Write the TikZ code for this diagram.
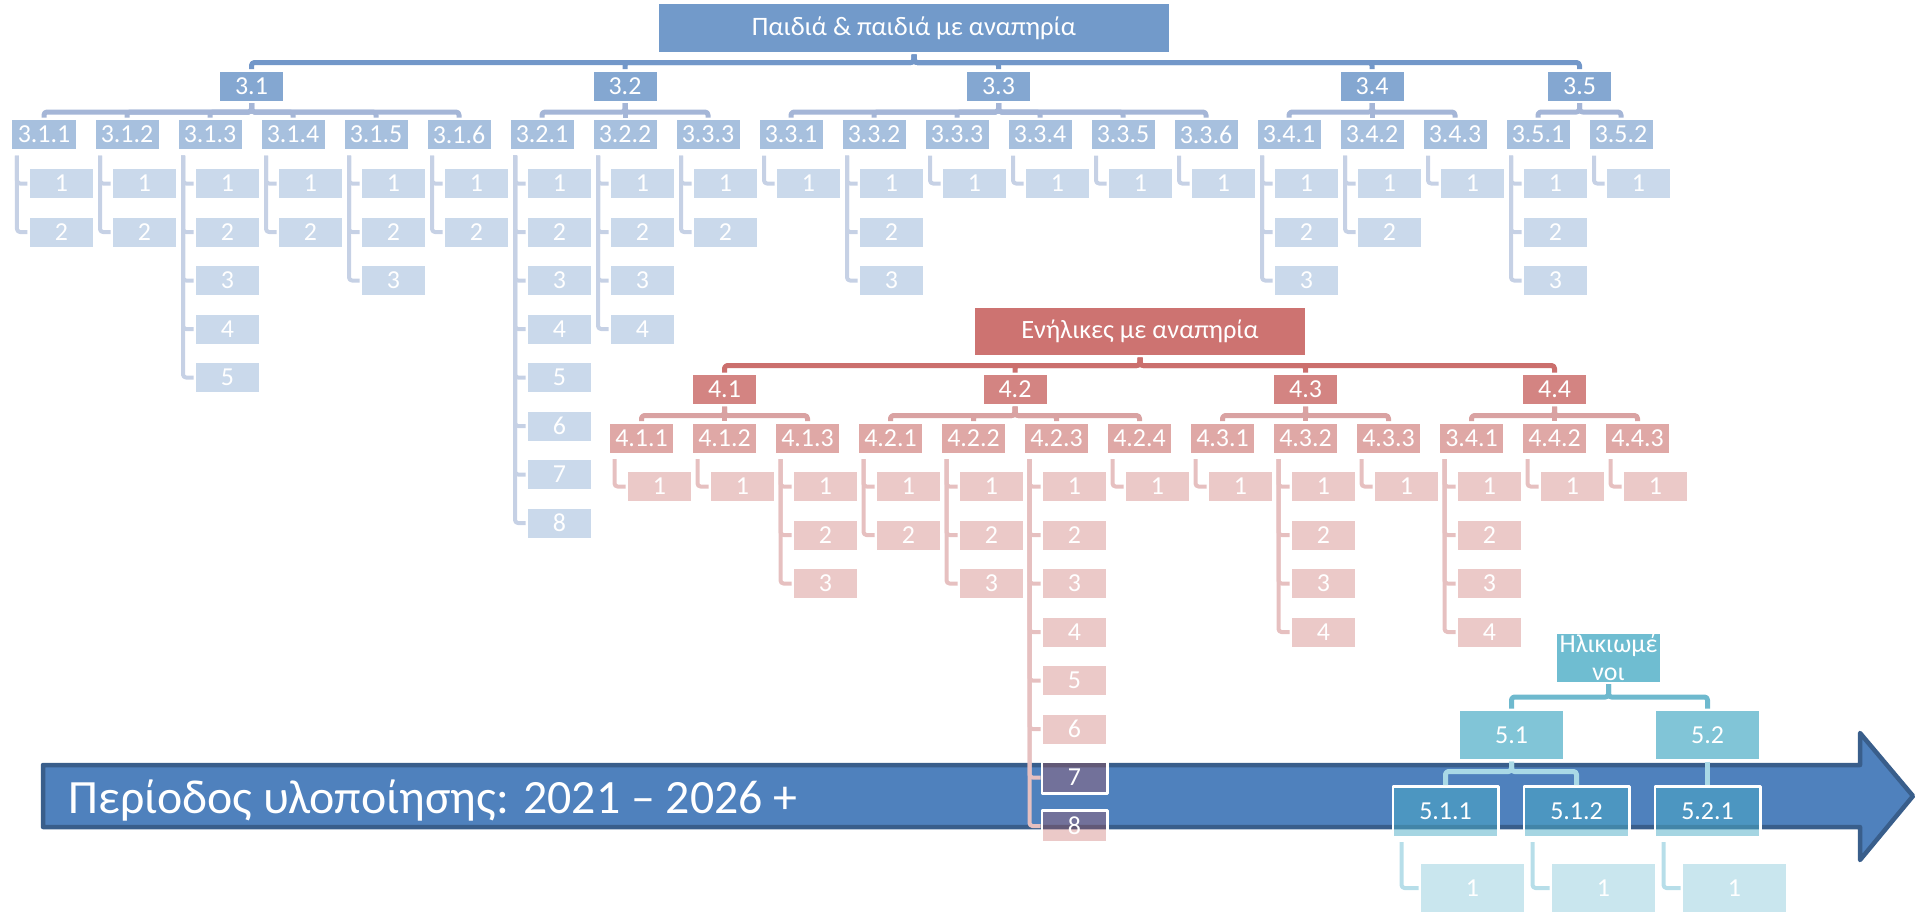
\documentclass[tikz,border=0pt]{standalone}
\usepackage{fontspec}
\setmainfont{Carlito}
\definecolor{accBlue}{HTML}{4F81BD}
\definecolor{accRed}{HTML}{C0504D}
\definecolor{accCyan}{HTML}{4BACC6}
\definecolor{arrowEdge}{HTML}{395E8B}
\definecolor{blueBar}{HTML}{7297C9}
\definecolor{blueSubBar}{HTML}{A5B6D7}
\definecolor{blueBrk}{HTML}{C6D1E5}
\definecolor{redBar}{HTML}{CB6F6D}
\definecolor{redSubBar}{HTML}{D9A2A2}
\definecolor{redBrk}{HTML}{E6C0C0}
\definecolor{cyanBar}{HTML}{6EB9CE}
\definecolor{cyanSubBar}{HTML}{A9D9E6}
\definecolor{cyanBrk}{HTML}{B7DEE9}
\tikzset{
  box/.style={draw=white,line width=2.5bp,inner sep=0pt,text=white,font=\fontsize{26}{28}\selectfont},
  smallbox/.style={box,minimum width=65.5bp,minimum height=31.5bp},
  bigbox/.style={box,minimum width=105.5bp,minimum height=50.5bp},
  bluetop/.style={box,fill=accBlue!80,font=\fontsize{26.7}{28}\selectfont},
  bluemid/.style={smallbox,fill=accBlue!70},
  bluesub/.style={smallbox,fill=accBlue!50},
  blueleaf/.style={smallbox,fill=accBlue!30},
  redtop/.style={box,fill=accRed!80,font=\fontsize{26.5}{28}\selectfont},
  redmid/.style={smallbox,fill=accRed!70},
  redsub/.style={smallbox,fill=accRed!50},
  redleaf/.style={smallbox,fill=accRed,fill opacity=0.31,text opacity=1},
  cyantop/.style={bigbox,fill=accCyan!80,align=center},
  cyanmid/.style={bigbox,fill=accCyan!70},
  cyansub/.style={bigbox,fill=accCyan,fill opacity=0.5,text opacity=1},
  cyanleaf/.style={bigbox,fill=accCyan!30},
  bar/.style={line width=5bp,rounded corners=3bp},
  brk/.style={line width=4bp,rounded corners=3bp,shorten <=4bp},
}
\begin{document}
\begin{tikzpicture}[x=1bp,y=-1bp,line join=round]
\useasboundingbox (0,0) rectangle (1915,912);
%% timeline arrow
\fill [accBlue,draw=arrowEdge,line width=4.5bp] (43,765) -- (1860,765) -- (1860,733) -- (1913,796) -- (1860,860) -- (1860,827) -- (43,827) -- cycle;
\node (period) at (65,813) [anchor=base west,text=white,font=\fontsize{48}{50}\selectfont] {Περίοδος υλοποίησης: 2021 – 2026 +};
%% children
\node (node_3) at (914,28) [bluetop,minimum width=512.5bp,minimum height=50.5bp] {Παιδιά \& παιδιά με αναπηρία};
  \node (node_3_1) at (251.5,86) [bluemid] {3.1};
  \node (node_3_2) at (625,86) [bluemid] {3.2};
  \node (node_3_3) at (998.5,86) [bluemid] {3.3};
  \node (node_3_4) at (1372,86) [bluemid] {3.4};
  \node (node_3_5) at (1579.5,86) [bluemid] {3.5};
  \node (node_3_1_1) at (44,134.5) [bluesub] {3.1.1};
  \node (node_3_1_2) at (127,134.5) [bluesub] {3.1.2};
  \node (node_3_1_3) at (210,134.5) [bluesub] {3.1.3};
  \node (node_3_1_4) at (293,134.5) [bluesub] {3.1.4};
  \node (node_3_1_5) at (376,134.5) [bluesub] {3.1.5};
  \node (node_3_1_6) at (459,134.5) [bluesub] {3.1.6};
  \node (node_3_2_1) at (542,134.5) [bluesub] {3.2.1};
  \node (node_3_2_2) at (625,134.5) [bluesub] {3.2.2};
  \node (node_3_2_3) at (708,134.5) [bluesub] {3.3.3};
  \node (node_3_3_1) at (791,134.5) [bluesub] {3.3.1};
  \node (node_3_3_2) at (874,134.5) [bluesub] {3.3.2};
  \node (node_3_3_3) at (957,134.5) [bluesub] {3.3.3};
  \node (node_3_3_4) at (1040,134.5) [bluesub] {3.3.4};
  \node (node_3_3_5) at (1123,134.5) [bluesub] {3.3.5};
  \node (node_3_3_6) at (1206,134.5) [bluesub] {3.3.6};
  \node (node_3_4_1) at (1289,134.5) [bluesub] {3.4.1};
  \node (node_3_4_2) at (1372,134.5) [bluesub] {3.4.2};
  \node (node_3_4_3) at (1455,134.5) [bluesub] {3.4.3};
  \node (node_3_5_1) at (1538,134.5) [bluesub] {3.5.1};
  \node (node_3_5_2) at (1621,134.5) [bluesub] {3.5.2};
  \node (node_3_1_1_1) at (61.5,183.5) [blueleaf] {1};
  \node (node_3_1_1_2) at (61.5,232) [blueleaf] {2};
  \node (node_3_1_2_1) at (144.5,183.5) [blueleaf] {1};
  \node (node_3_1_2_2) at (144.5,232) [blueleaf] {2};
  \node (node_3_1_3_1) at (227.5,183.5) [blueleaf] {1};
  \node (node_3_1_3_2) at (227.5,232) [blueleaf] {2};
  \node (node_3_1_3_3) at (227.5,280.5) [blueleaf] {3};
  \node (node_3_1_3_4) at (227.5,329) [blueleaf] {4};
  \node (node_3_1_3_5) at (227.5,377.5) [blueleaf] {5};
  \node (node_3_1_4_1) at (310.5,183.5) [blueleaf] {1};
  \node (node_3_1_4_2) at (310.5,232) [blueleaf] {2};
  \node (node_3_1_5_1) at (393.5,183.5) [blueleaf] {1};
  \node (node_3_1_5_2) at (393.5,232) [blueleaf] {2};
  \node (node_3_1_5_3) at (393.5,280.5) [blueleaf] {3};
  \node (node_3_1_6_1) at (476.5,183.5) [blueleaf] {1};
  \node (node_3_1_6_2) at (476.5,232) [blueleaf] {2};
  \node (node_3_2_1_1) at (559.5,183.5) [blueleaf] {1};
  \node (node_3_2_1_2) at (559.5,232) [blueleaf] {2};
  \node (node_3_2_1_3) at (559.5,280.5) [blueleaf] {3};
  \node (node_3_2_1_4) at (559.5,329) [blueleaf] {4};
  \node (node_3_2_1_5) at (559.5,377.5) [blueleaf] {5};
  \node (node_3_2_1_6) at (559.5,426) [blueleaf] {6};
  \node (node_3_2_1_7) at (559.5,474.5) [blueleaf] {7};
  \node (node_3_2_1_8) at (559.5,523) [blueleaf] {8};
  \node (node_3_2_2_1) at (642.5,183.5) [blueleaf] {1};
  \node (node_3_2_2_2) at (642.5,232) [blueleaf] {2};
  \node (node_3_2_2_3) at (642.5,280.5) [blueleaf] {3};
  \node (node_3_2_2_4) at (642.5,329) [blueleaf] {4};
  \node (node_3_2_3_1) at (725.5,183.5) [blueleaf] {1};
  \node (node_3_2_3_2) at (725.5,232) [blueleaf] {2};
  \node (node_3_3_1_1) at (808.5,183.5) [blueleaf] {1};
  \node (node_3_3_2_1) at (891.5,183.5) [blueleaf] {1};
  \node (node_3_3_2_2) at (891.5,232) [blueleaf] {2};
  \node (node_3_3_2_3) at (891.5,280.5) [blueleaf] {3};
  \node (node_3_3_3_1) at (974.5,183.5) [blueleaf] {1};
  \node (node_3_3_4_1) at (1057.5,183.5) [blueleaf] {1};
  \node (node_3_3_5_1) at (1140.5,183.5) [blueleaf] {1};
  \node (node_3_3_6_1) at (1223.5,183.5) [blueleaf] {1};
  \node (node_3_4_1_1) at (1306.5,183.5) [blueleaf] {1};
  \node (node_3_4_1_2) at (1306.5,232) [blueleaf] {2};
  \node (node_3_4_1_3) at (1306.5,280.5) [blueleaf] {3};
  \node (node_3_4_2_1) at (1389.5,183.5) [blueleaf] {1};
  \node (node_3_4_2_2) at (1389.5,232) [blueleaf] {2};
  \node (node_3_4_3_1) at (1472.5,183.5) [blueleaf] {1};
  \node (node_3_5_1_1) at (1555.5,183.5) [blueleaf] {1};
  \node (node_3_5_1_2) at (1555.5,232) [blueleaf] {2};
  \node (node_3_5_1_3) at (1555.5,280.5) [blueleaf] {3};
  \node (node_3_5_2_1) at (1638.5,183.5) [blueleaf] {1};
  \draw [blueBar,bar] (node_3.south) -- ++(0,8) -| (node_3_1.north);
  \draw [blueBar,bar] (node_3.south) -- ++(0,8) -| (node_3_2.north);
  \draw [blueBar,bar] (node_3.south) -- ++(0,8) -| (node_3_3.north);
  \draw [blueBar,bar] (node_3.south) -- ++(0,8) -| (node_3_4.north);
  \draw [blueBar,bar] (node_3.south) -- ++(0,8) -| (node_3_5.north);
  \draw [blueSubBar,bar] (node_3_1.south) -- ++(0,9) -| (node_3_1_1.north);
  \draw [blueSubBar,bar] (node_3_1.south) -- ++(0,9) -| (node_3_1_2.north);
  \draw [blueSubBar,bar] (node_3_1.south) -- ++(0,9) -| (node_3_1_3.north);
  \draw [blueSubBar,bar] (node_3_1.south) -- ++(0,9) -| (node_3_1_4.north);
  \draw [blueSubBar,bar] (node_3_1.south) -- ++(0,9) -| (node_3_1_5.north);
  \draw [blueSubBar,bar] (node_3_1.south) -- ++(0,9) -| (node_3_1_6.north);
  \draw [blueSubBar,bar] (node_3_2.south) -- ++(0,9) -| (node_3_2_1.north);
  \draw [blueSubBar,bar] (node_3_2.south) -- ++(0,9) -| (node_3_2_2.north);
  \draw [blueSubBar,bar] (node_3_2.south) -- ++(0,9) -| (node_3_2_3.north);
  \draw [blueSubBar,bar] (node_3_3.south) -- ++(0,9) -| (node_3_3_1.north);
  \draw [blueSubBar,bar] (node_3_3.south) -- ++(0,9) -| (node_3_3_2.north);
  \draw [blueSubBar,bar] (node_3_3.south) -- ++(0,9) -| (node_3_3_3.north);
  \draw [blueSubBar,bar] (node_3_3.south) -- ++(0,9) -| (node_3_3_4.north);
  \draw [blueSubBar,bar] (node_3_3.south) -- ++(0,9) -| (node_3_3_5.north);
  \draw [blueSubBar,bar] (node_3_3.south) -- ++(0,9) -| (node_3_3_6.north);
  \draw [blueSubBar,bar] (node_3_4.south) -- ++(0,9) -| (node_3_4_1.north);
  \draw [blueSubBar,bar] (node_3_4.south) -- ++(0,9) -| (node_3_4_2.north);
  \draw [blueSubBar,bar] (node_3_4.south) -- ++(0,9) -| (node_3_4_3.north);
  \draw [blueSubBar,bar] (node_3_5.south) -- ++(0,9) -| (node_3_5_1.north);
  \draw [blueSubBar,bar] (node_3_5.south) -- ++(0,9) -| (node_3_5_2.north);
  \draw [blueBrk,brk] ([xshift=-27bp]node_3_1_1.south) |- (node_3_1_1_1.west);
  \draw [blueBrk,brk] ([xshift=-27bp]node_3_1_1.south) |- (node_3_1_1_2.west);
  \draw [blueBrk,brk] ([xshift=-27bp]node_3_1_2.south) |- (node_3_1_2_1.west);
  \draw [blueBrk,brk] ([xshift=-27bp]node_3_1_2.south) |- (node_3_1_2_2.west);
  \draw [blueBrk,brk] ([xshift=-27bp]node_3_1_3.south) |- (node_3_1_3_1.west);
  \draw [blueBrk,brk] ([xshift=-27bp]node_3_1_3.south) |- (node_3_1_3_2.west);
  \draw [blueBrk,brk] ([xshift=-27bp]node_3_1_3.south) |- (node_3_1_3_3.west);
  \draw [blueBrk,brk] ([xshift=-27bp]node_3_1_3.south) |- (node_3_1_3_4.west);
  \draw [blueBrk,brk] ([xshift=-27bp]node_3_1_3.south) |- (node_3_1_3_5.west);
  \draw [blueBrk,brk] ([xshift=-27bp]node_3_1_4.south) |- (node_3_1_4_1.west);
  \draw [blueBrk,brk] ([xshift=-27bp]node_3_1_4.south) |- (node_3_1_4_2.west);
  \draw [blueBrk,brk] ([xshift=-27bp]node_3_1_5.south) |- (node_3_1_5_1.west);
  \draw [blueBrk,brk] ([xshift=-27bp]node_3_1_5.south) |- (node_3_1_5_2.west);
  \draw [blueBrk,brk] ([xshift=-27bp]node_3_1_5.south) |- (node_3_1_5_3.west);
  \draw [blueBrk,brk] ([xshift=-27bp]node_3_1_6.south) |- (node_3_1_6_1.west);
  \draw [blueBrk,brk] ([xshift=-27bp]node_3_1_6.south) |- (node_3_1_6_2.west);
  \draw [blueBrk,brk] ([xshift=-27bp]node_3_2_1.south) |- (node_3_2_1_1.west);
  \draw [blueBrk,brk] ([xshift=-27bp]node_3_2_1.south) |- (node_3_2_1_2.west);
  \draw [blueBrk,brk] ([xshift=-27bp]node_3_2_1.south) |- (node_3_2_1_3.west);
  \draw [blueBrk,brk] ([xshift=-27bp]node_3_2_1.south) |- (node_3_2_1_4.west);
  \draw [blueBrk,brk] ([xshift=-27bp]node_3_2_1.south) |- (node_3_2_1_5.west);
  \draw [blueBrk,brk] ([xshift=-27bp]node_3_2_1.south) |- (node_3_2_1_6.west);
  \draw [blueBrk,brk] ([xshift=-27bp]node_3_2_1.south) |- (node_3_2_1_7.west);
  \draw [blueBrk,brk] ([xshift=-27bp]node_3_2_1.south) |- (node_3_2_1_8.west);
  \draw [blueBrk,brk] ([xshift=-27bp]node_3_2_2.south) |- (node_3_2_2_1.west);
  \draw [blueBrk,brk] ([xshift=-27bp]node_3_2_2.south) |- (node_3_2_2_2.west);
  \draw [blueBrk,brk] ([xshift=-27bp]node_3_2_2.south) |- (node_3_2_2_3.west);
  \draw [blueBrk,brk] ([xshift=-27bp]node_3_2_2.south) |- (node_3_2_2_4.west);
  \draw [blueBrk,brk] ([xshift=-27bp]node_3_2_3.south) |- (node_3_2_3_1.west);
  \draw [blueBrk,brk] ([xshift=-27bp]node_3_2_3.south) |- (node_3_2_3_2.west);
  \draw [blueBrk,brk] ([xshift=-27bp]node_3_3_1.south) |- (node_3_3_1_1.west);
  \draw [blueBrk,brk] ([xshift=-27bp]node_3_3_2.south) |- (node_3_3_2_1.west);
  \draw [blueBrk,brk] ([xshift=-27bp]node_3_3_2.south) |- (node_3_3_2_2.west);
  \draw [blueBrk,brk] ([xshift=-27bp]node_3_3_2.south) |- (node_3_3_2_3.west);
  \draw [blueBrk,brk] ([xshift=-27bp]node_3_3_3.south) |- (node_3_3_3_1.west);
  \draw [blueBrk,brk] ([xshift=-27bp]node_3_3_4.south) |- (node_3_3_4_1.west);
  \draw [blueBrk,brk] ([xshift=-27bp]node_3_3_5.south) |- (node_3_3_5_1.west);
  \draw [blueBrk,brk] ([xshift=-27bp]node_3_3_6.south) |- (node_3_3_6_1.west);
  \draw [blueBrk,brk] ([xshift=-27bp]node_3_4_1.south) |- (node_3_4_1_1.west);
  \draw [blueBrk,brk] ([xshift=-27bp]node_3_4_1.south) |- (node_3_4_1_2.west);
  \draw [blueBrk,brk] ([xshift=-27bp]node_3_4_1.south) |- (node_3_4_1_3.west);
  \draw [blueBrk,brk] ([xshift=-27bp]node_3_4_2.south) |- (node_3_4_2_1.west);
  \draw [blueBrk,brk] ([xshift=-27bp]node_3_4_2.south) |- (node_3_4_2_2.west);
  \draw [blueBrk,brk] ([xshift=-27bp]node_3_4_3.south) |- (node_3_4_3_1.west);
  \draw [blueBrk,brk] ([xshift=-27bp]node_3_5_1.south) |- (node_3_5_1_1.west);
  \draw [blueBrk,brk] ([xshift=-27bp]node_3_5_1.south) |- (node_3_5_1_2.west);
  \draw [blueBrk,brk] ([xshift=-27bp]node_3_5_1.south) |- (node_3_5_1_3.west);
  \draw [blueBrk,brk] ([xshift=-27bp]node_3_5_2.south) |- (node_3_5_2_1.west);
%% adults
\node (node_4) at (1140,331.5) [redtop,minimum width=332.5bp,minimum height=49.5bp] {Ενήλικες με αναπηρία};
  \node (node_4_1) at (724.5,389.5) [redmid] {4.1};
  \node (node_4_2) at (1015,389.5) [redmid] {4.2};
  \node (node_4_3) at (1305.5,389.5) [redmid] {4.3};
  \node (node_4_4) at (1554.5,389.5) [redmid] {4.4};
  \node (node_4_1_1) at (641.5,438) [redsub] {4.1.1};
  \node (node_4_1_2) at (724.5,438) [redsub] {4.1.2};
  \node (node_4_1_3) at (807.5,438) [redsub] {4.1.3};
  \node (node_4_2_1) at (890.5,438) [redsub] {4.2.1};
  \node (node_4_2_2) at (973.5,438) [redsub] {4.2.2};
  \node (node_4_2_3) at (1056.5,438) [redsub] {4.2.3};
  \node (node_4_2_4) at (1139.5,438) [redsub] {4.2.4};
  \node (node_4_3_1) at (1222.5,438) [redsub] {4.3.1};
  \node (node_4_3_2) at (1305.5,438) [redsub] {4.3.2};
  \node (node_4_3_3) at (1388.5,438) [redsub] {4.3.3};
  \node (node_4_4_1) at (1471.5,438) [redsub] {3.4.1};
  \node (node_4_4_2) at (1554.5,438) [redsub] {4.4.2};
  \node (node_4_4_3) at (1637.5,438) [redsub] {4.4.3};
  \node (node_4_1_1_1) at (659.5,486.5) [redleaf] {1};
  \node (node_4_1_2_1) at (742.5,486.5) [redleaf] {1};
  \node (node_4_1_3_1) at (825.5,486.5) [redleaf] {1};
  \node (node_4_1_3_2) at (825.5,535) [redleaf] {2};
  \node (node_4_1_3_3) at (825.5,583.5) [redleaf] {3};
  \node (node_4_2_1_1) at (908.5,486.5) [redleaf] {1};
  \node (node_4_2_1_2) at (908.5,535) [redleaf] {2};
  \node (node_4_2_2_1) at (991.5,486.5) [redleaf] {1};
  \node (node_4_2_2_2) at (991.5,535) [redleaf] {2};
  \node (node_4_2_2_3) at (991.5,583.5) [redleaf] {3};
  \node (node_4_2_3_1) at (1074.5,486.5) [redleaf] {1};
  \node (node_4_2_3_2) at (1074.5,535) [redleaf] {2};
  \node (node_4_2_3_3) at (1074.5,583.5) [redleaf] {3};
  \node (node_4_2_3_4) at (1074.5,632) [redleaf] {4};
  \node (node_4_2_3_5) at (1074.5,680.5) [redleaf] {5};
  \node (node_4_2_3_6) at (1074.5,729) [redleaf] {6};
  \node (node_4_2_3_7) at (1074.5,777.5) [redleaf] {7};
  \node (node_4_2_3_8) at (1074.5,826) [redleaf] {8};
  \node (node_4_2_4_1) at (1157.5,486.5) [redleaf] {1};
  \node (node_4_3_1_1) at (1240.5,486.5) [redleaf] {1};
  \node (node_4_3_2_1) at (1323.5,486.5) [redleaf] {1};
  \node (node_4_3_2_2) at (1323.5,535) [redleaf] {2};
  \node (node_4_3_2_3) at (1323.5,583.5) [redleaf] {3};
  \node (node_4_3_2_4) at (1323.5,632) [redleaf] {4};
  \node (node_4_3_3_1) at (1406.5,486.5) [redleaf] {1};
  \node (node_4_4_1_1) at (1489.5,486.5) [redleaf] {1};
  \node (node_4_4_1_2) at (1489.5,535) [redleaf] {2};
  \node (node_4_4_1_3) at (1489.5,583.5) [redleaf] {3};
  \node (node_4_4_1_4) at (1489.5,632) [redleaf] {4};
  \node (node_4_4_2_1) at (1572.5,486.5) [redleaf] {1};
  \node (node_4_4_3_1) at (1655.5,486.5) [redleaf] {1};
  \draw [redBar,bar] (node_4.south) -- ++(0,8) -| (node_4_1.north);
  \draw [redBar,bar] (node_4.south) -- ++(0,8) -| (node_4_2.north);
  \draw [redBar,bar] (node_4.south) -- ++(0,8) -| (node_4_3.north);
  \draw [redBar,bar] (node_4.south) -- ++(0,8) -| (node_4_4.north);
  \draw [redSubBar,bar] (node_4_1.south) -- ++(0,9) -| (node_4_1_1.north);
  \draw [redSubBar,bar] (node_4_1.south) -- ++(0,9) -| (node_4_1_2.north);
  \draw [redSubBar,bar] (node_4_1.south) -- ++(0,9) -| (node_4_1_3.north);
  \draw [redSubBar,bar] (node_4_2.south) -- ++(0,9) -| (node_4_2_1.north);
  \draw [redSubBar,bar] (node_4_2.south) -- ++(0,9) -| (node_4_2_2.north);
  \draw [redSubBar,bar] (node_4_2.south) -- ++(0,9) -| (node_4_2_3.north);
  \draw [redSubBar,bar] (node_4_2.south) -- ++(0,9) -| (node_4_2_4.north);
  \draw [redSubBar,bar] (node_4_3.south) -- ++(0,9) -| (node_4_3_1.north);
  \draw [redSubBar,bar] (node_4_3.south) -- ++(0,9) -| (node_4_3_2.north);
  \draw [redSubBar,bar] (node_4_3.south) -- ++(0,9) -| (node_4_3_3.north);
  \draw [redSubBar,bar] (node_4_4.south) -- ++(0,9) -| (node_4_4_1.north);
  \draw [redSubBar,bar] (node_4_4.south) -- ++(0,9) -| (node_4_4_2.north);
  \draw [redSubBar,bar] (node_4_4.south) -- ++(0,9) -| (node_4_4_3.north);
  \draw [redBrk,brk] ([xshift=-27bp]node_4_1_1.south) |- (node_4_1_1_1.west);
  \draw [redBrk,brk] ([xshift=-27bp]node_4_1_2.south) |- (node_4_1_2_1.west);
  \draw [redBrk,brk] ([xshift=-27bp]node_4_1_3.south) |- (node_4_1_3_1.west);
  \draw [redBrk,brk] ([xshift=-27bp]node_4_1_3.south) |- (node_4_1_3_2.west);
  \draw [redBrk,brk] ([xshift=-27bp]node_4_1_3.south) |- (node_4_1_3_3.west);
  \draw [redBrk,brk] ([xshift=-27bp]node_4_2_1.south) |- (node_4_2_1_1.west);
  \draw [redBrk,brk] ([xshift=-27bp]node_4_2_1.south) |- (node_4_2_1_2.west);
  \draw [redBrk,brk] ([xshift=-27bp]node_4_2_2.south) |- (node_4_2_2_1.west);
  \draw [redBrk,brk] ([xshift=-27bp]node_4_2_2.south) |- (node_4_2_2_2.west);
  \draw [redBrk,brk] ([xshift=-27bp]node_4_2_2.south) |- (node_4_2_2_3.west);
  \draw [redBrk,brk] ([xshift=-27bp]node_4_2_3.south) |- (node_4_2_3_1.west);
  \draw [redBrk,brk] ([xshift=-27bp]node_4_2_3.south) |- (node_4_2_3_2.west);
  \draw [redBrk,brk] ([xshift=-27bp]node_4_2_3.south) |- (node_4_2_3_3.west);
  \draw [redBrk,brk] ([xshift=-27bp]node_4_2_3.south) |- (node_4_2_3_4.west);
  \draw [redBrk,brk] ([xshift=-27bp]node_4_2_3.south) |- (node_4_2_3_5.west);
  \draw [redBrk,brk] ([xshift=-27bp]node_4_2_3.south) |- (node_4_2_3_6.west);
  \draw [redBrk,brk] ([xshift=-27bp]node_4_2_3.south) |- (node_4_2_3_7.west);
  \draw [redBrk,brk] ([xshift=-27bp]node_4_2_3.south) |- (node_4_2_3_8.west);
  \draw [redBrk,brk] ([xshift=-27bp]node_4_2_4.south) |- (node_4_2_4_1.west);
  \draw [redBrk,brk] ([xshift=-27bp]node_4_3_1.south) |- (node_4_3_1_1.west);
  \draw [redBrk,brk] ([xshift=-27bp]node_4_3_2.south) |- (node_4_3_2_1.west);
  \draw [redBrk,brk] ([xshift=-27bp]node_4_3_2.south) |- (node_4_3_2_2.west);
  \draw [redBrk,brk] ([xshift=-27bp]node_4_3_2.south) |- (node_4_3_2_3.west);
  \draw [redBrk,brk] ([xshift=-27bp]node_4_3_2.south) |- (node_4_3_2_4.west);
  \draw [redBrk,brk] ([xshift=-27bp]node_4_3_3.south) |- (node_4_3_3_1.west);
  \draw [redBrk,brk] ([xshift=-27bp]node_4_4_1.south) |- (node_4_4_1_1.west);
  \draw [redBrk,brk] ([xshift=-27bp]node_4_4_1.south) |- (node_4_4_1_2.west);
  \draw [redBrk,brk] ([xshift=-27bp]node_4_4_1.south) |- (node_4_4_1_3.west);
  \draw [redBrk,brk] ([xshift=-27bp]node_4_4_1.south) |- (node_4_4_1_4.west);
  \draw [redBrk,brk] ([xshift=-27bp]node_4_4_2.south) |- (node_4_4_2_1.west);
  \draw [redBrk,brk] ([xshift=-27bp]node_4_4_3.south) |- (node_4_4_3_1.west);
%% elderly
\node (node_5) at (1608.5,657.5) [cyantop] {Ηλικιωμέ\\νοι};
  \node (node_5_1) at (1511.5,735) [cyanmid] {5.1};
  \node (node_5_2) at (1707.5,735) [cyanmid] {5.2};
  \node (node_5_1_1) at (1445.5,811.5) [cyansub] {5.1.1};
  \node (node_5_1_2) at (1576.5,811.5) [cyansub] {5.1.2};
  \node (node_5_2_1) at (1707.5,811.5) [cyansub] {5.2.1};
  \node (node_5_1_1_1) at (1472.5,888) [cyanleaf] {1};
  \node (node_5_1_2_1) at (1603.5,888) [cyanleaf] {1};
  \node (node_5_2_1_1) at (1734.5,888) [cyanleaf] {1};
  \draw [cyanBar,bar] (node_5.south) -- ++(0,13) -| (node_5_1.north);
  \draw [cyanBar,bar] (node_5.south) -- ++(0,13) -| (node_5_2.north);
  \draw [cyanSubBar,bar] (node_5_1.south) -- ++(0,10) -| (node_5_1_1.north);
  \draw [cyanSubBar,bar] (node_5_1.south) -- ++(0,10) -| (node_5_1_2.north);
  \draw [cyanSubBar,bar] (node_5_2.south) -- (node_5_2_1.north);
  \draw [cyanBrk,brk] ([xshift=-44bp]node_5_1_1.south) |- (node_5_1_1_1.west);
  \draw [cyanBrk,brk] ([xshift=-44bp]node_5_1_2.south) |- (node_5_1_2_1.west);
  \draw [cyanBrk,brk] ([xshift=-44bp]node_5_2_1.south) |- (node_5_2_1_1.west);
%
\end{tikzpicture}
\end{document}
